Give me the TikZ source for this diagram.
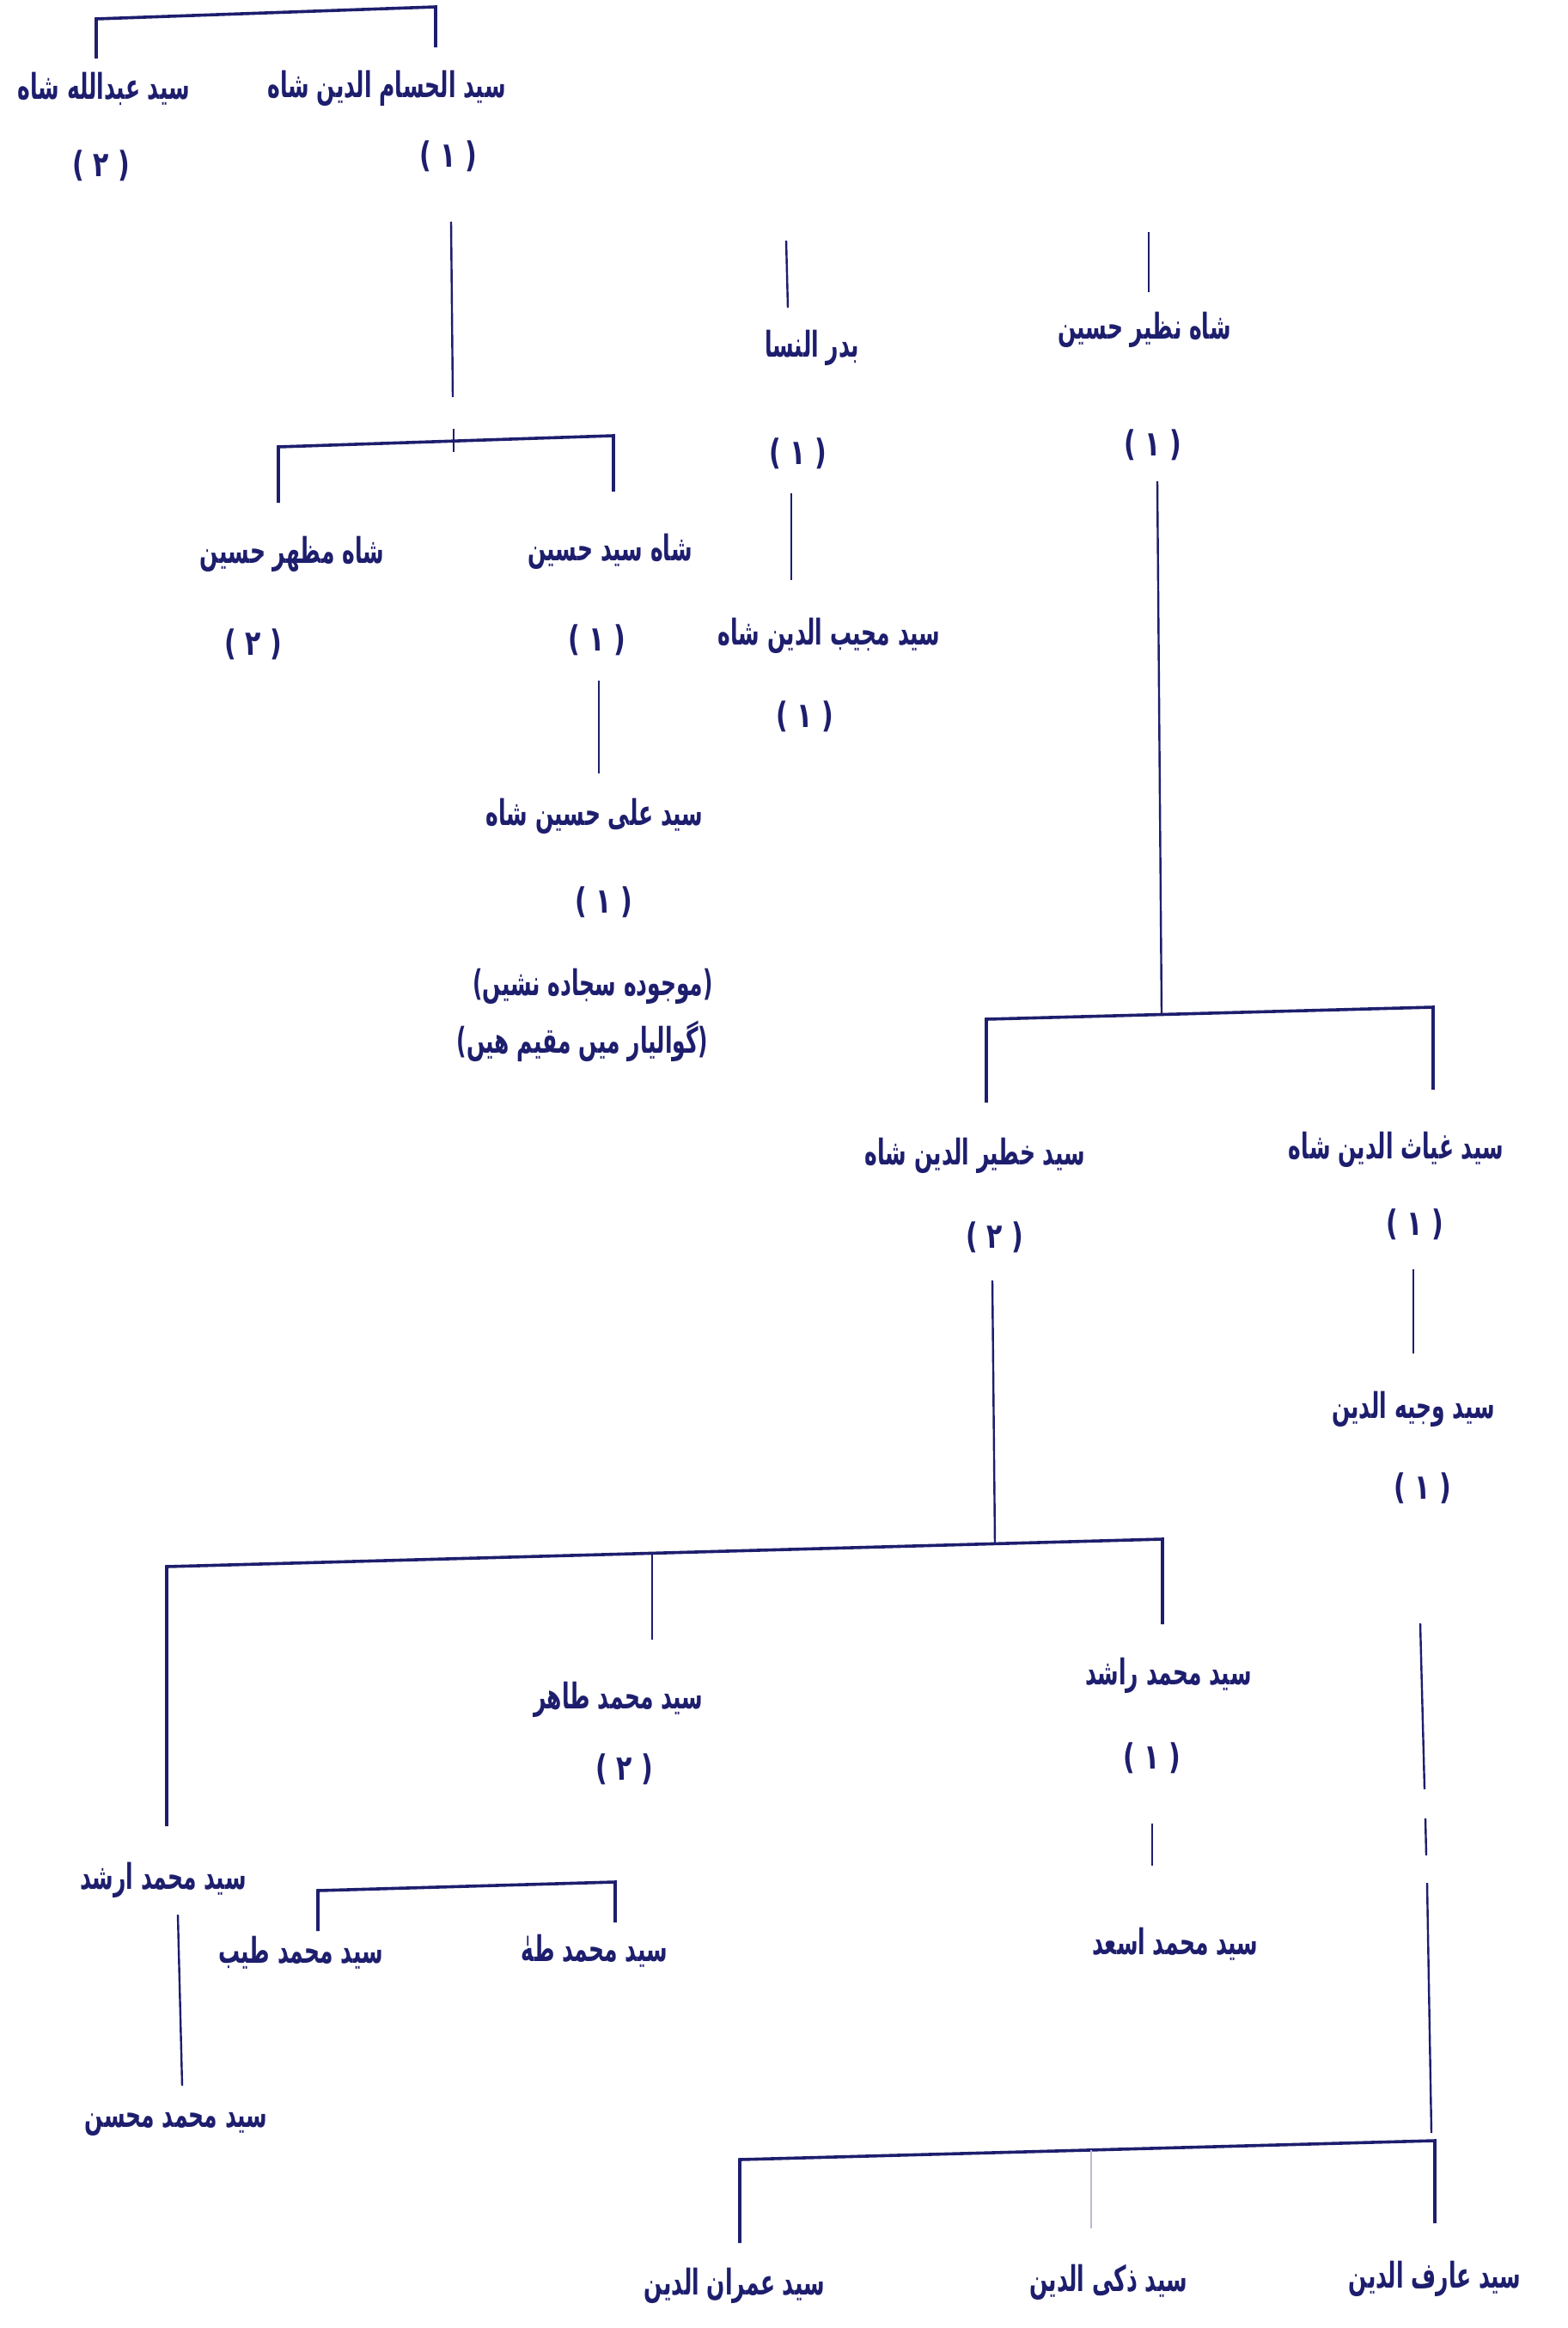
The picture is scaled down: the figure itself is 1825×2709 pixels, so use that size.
\documentclass[tikz,border=0pt]{standalone}
\usepackage{graphicx}
\usepackage{fontspec}
\newfontfamily\urdu[Script=Arabic]{DejaVu Sans}
\TeXXeTstate=1
\definecolor{ink}{RGB}{30,30,110}
\newcommand\urdutxt[1]{\scalebox{1}[1.65]{\beginR #1\endR}}
\newcommand\urdunum[1]{\scalebox{1}[1.35]{\beginR #1\endR}}
\begin{document}
\begin{tikzpicture}[x=0.5pt,y=-0.5pt,
  nm/.style={text=ink, inner sep=0pt, font={\urdu\bfseries\fontsize{12.5}{15}\selectfont}},
  num/.style={text=ink, inner sep=0pt, font={\urdu\bfseries\fontsize{15}{18}\selectfont}},
  bar/.style={draw=ink, line width=1.8pt, line join=miter},
  vline/.style={draw=ink, line width=1.2pt},
  faint/.style={draw=ink!30, line width=0.8pt}]
\fill[white] (0,0) rectangle (1825,2709);
\useasboundingbox (0,0) rectangle (1825,2709);

% ---------- top pair ----------
\node[nm] (A) at (121,103) {\urdutxt{سید عبدالله شاه}};
\node[nm] (B) at (450,103) {\urdutxt{سید الحسام الدین شاه}};
\node[num] (nA) at (118,193) {\urdunum{( ۲ )}};
\node[num] (nB) at (522,182) {\urdunum{( ۱ )}};
\coordinate (tA) at (112,22);  \coordinate (tB) at (507,8);
\coordinate (tAb) at (112,68); \coordinate (tBb) at (507,55);
\draw[bar] (tAb) -- (tA) -- (tB) -- (tBb);

% ---------- under B ----------
\coordinate (v1a) at (525,258); \coordinate (v1b) at (527,462);
\coordinate (v1c) at (528,499); \coordinate (v1d) at (528,526);
\draw[vline] (v1a) -- (v1b);
\draw[vline] (v1c) -- (v1d);
\coordinate (b2L) at (324,520); \coordinate (b2R) at (714,507);
\coordinate (b2Lb) at (324,585); \coordinate (b2Rb) at (714,572);
\draw[bar] (b2Lb) -- (b2L) -- (b2R) -- (b2Rb);
\node[nm] (C) at (340,645) {\urdutxt{شاه مظهر حسین}};
\node[num] (nC) at (295,750) {\urdunum{( ۲ )}};
\node[nm] (D) at (710,642) {\urdutxt{شاه سید حسین}};
\node[num] (nD) at (695,745) {\urdunum{( ۱ )}};
\coordinate (v2a) at (697,792); \coordinate (v2b) at (697,900);
\draw[vline] (v2a) -- (v2b);
\node[nm] (E) at (692,950) {\urdutxt{سید علی حسین شاه}};
\node[num] (nE) at (703,1050) {\urdunum{( ۱ )}};
\node[nm] (F1) at (690,1148) {\urdutxt{(موجوده سجاده نشیں)}};
\node[nm] (F2) at (678,1212) {\urdutxt{(گوالیار میں مقیم هیں)}};

% ---------- middle column ----------
\coordinate (v3a) at (915,280); \coordinate (v3b) at (917,358);
\draw[vline] (v3a) -- (v3b);
\node[nm] (G) at (945,405) {\urdutxt{بدر النسا}};
\node[num] (nG) at (929,528) {\urdunum{( ۱ )}};
\coordinate (v4a) at (921,574); \coordinate (v4b) at (921,675);
\draw[vline] (v4a) -- (v4b);
\node[nm] (H) at (965,740) {\urdutxt{سید مجیب الدین شاه}};
\node[num] (nH) at (937,834) {\urdunum{( ۱ )}};

% ---------- right column ----------
\coordinate (v5a) at (1337,270); \coordinate (v5b) at (1337,340);
\draw[vline] (v5a) -- (v5b);
\node[nm] (I) at (1332,384) {\urdutxt{شاه نظیر حسین}};
\node[num] (nI) at (1342,518) {\urdunum{( ۱ )}};
\coordinate (v6a) at (1347,560); \coordinate (v6b) at (1352,1180);
\draw[vline] (v6a) -- (v6b);
\coordinate (b3L) at (1148,1186); \coordinate (b3R) at (1668,1172);
\coordinate (b3Lb) at (1148,1283); \coordinate (b3Rb) at (1668,1268);
\draw[bar] (b3Lb) -- (b3L) -- (b3R) -- (b3Rb);
\node[nm] (J) at (1135,1345) {\urdutxt{سید خطیر الدین شاه}};
\node[num] (nJ) at (1158,1440) {\urdunum{( ۲ )}};
\node[nm] (K) at (1625,1338) {\urdutxt{سید غیاث الدین شاه}};
\node[num] (nK) at (1647,1425) {\urdunum{( ۱ )}};
\coordinate (v7a) at (1645,1477); \coordinate (v7b) at (1645,1575);
\draw[vline] (v7a) -- (v7b);
\node[nm] (L) at (1645,1640) {\urdutxt{سید وجیه الدین}};
\node[num] (nL) at (1656,1732) {\urdunum{( ۱ )}};

% ---------- children of J ----------
\coordinate (v8a) at (1155,1490); \coordinate (v8b) at (1158,1797);
\draw[vline] (v8a) -- (v8b);
\coordinate (b4L) at (194,1823); \coordinate (b4R) at (1353,1791);
\coordinate (b4Lb) at (194,2125); \coordinate (b4Rb) at (1353,1890);
\coordinate (b4M) at (759,1807); \coordinate (b4Mb) at (759,1908);
\draw[bar] (b4Lb) -- (b4L) -- (b4R) -- (b4Rb);
\draw[vline] (b4M) -- (b4Mb);
\node[nm] (M) at (720,1978) {\urdutxt{سید محمد طاهر}};
\node[num] (nM) at (727,2059) {\urdunum{( ۲ )}};
\node[nm] (N) at (1360,1950) {\urdutxt{سید محمد راشد}};
\node[num] (nN) at (1341,2046) {\urdunum{( ۱ )}};
\coordinate (v9a) at (1341,2122); \coordinate (v9b) at (1341,2171);
\draw[vline] (v9a) -- (v9b);
\node[nm] (O) at (1368,2262) {\urdutxt{سید محمد اسعد}};
\node[nm] (P) at (190,2188) {\urdutxt{سید محمد ارشد}};
\coordinate (v10a) at (207,2228); \coordinate (v10b) at (212,2427);
\draw[vline] (v10a) -- (v10b);
\node[nm] (Q) at (205,2472) {\urdutxt{سید محمد محسن}};
\coordinate (b5L) at (370,2200); \coordinate (b5R) at (716,2190);
\coordinate (b5Lb) at (370,2247); \coordinate (b5Rb) at (716,2237);
\draw[bar] (b5Lb) -- (b5L) -- (b5R) -- (b5Rb);
\node[nm] (R) at (350,2272) {\urdutxt{سید محمد طیب}};
\node[nm] (S) at (692,2270) {\urdutxt{سید محمد طهٰ}};

% ---------- bottom right ----------
\coordinate (v11a) at (1653,1889); \coordinate (v11b) at (1658,2082);
\coordinate (v11c) at (1659,2116); \coordinate (v11d) at (1660,2159);
\coordinate (v11e) at (1661,2191); \coordinate (v11f) at (1666,2482);
\draw[vline] (v11a) -- (v11b);
\draw[vline] (v11c) -- (v11d);
\draw[vline] (v11e) -- (v11f);
\coordinate (b6R) at (1670,2491); \coordinate (b6L) at (861,2513);
\coordinate (b6Lb) at (861,2610); \coordinate (b6Rb) at (1670,2587);
\coordinate (b6M) at (1270,2502); \coordinate (b6Mb) at (1270,2593);
\draw[bar] (b6Lb) -- (b6L) -- (b6R) -- (b6Rb);
\draw[faint] (b6M) -- (b6Mb);
\node[nm] (T) at (855,2660) {\urdutxt{سید عمران الدین}};
\node[nm] (U) at (1290,2656) {\urdutxt{سید ذکی الدین}};
\node[nm] (V) at (1670,2652) {\urdutxt{سید عارف الدین}};
\end{tikzpicture}
\end{document}
